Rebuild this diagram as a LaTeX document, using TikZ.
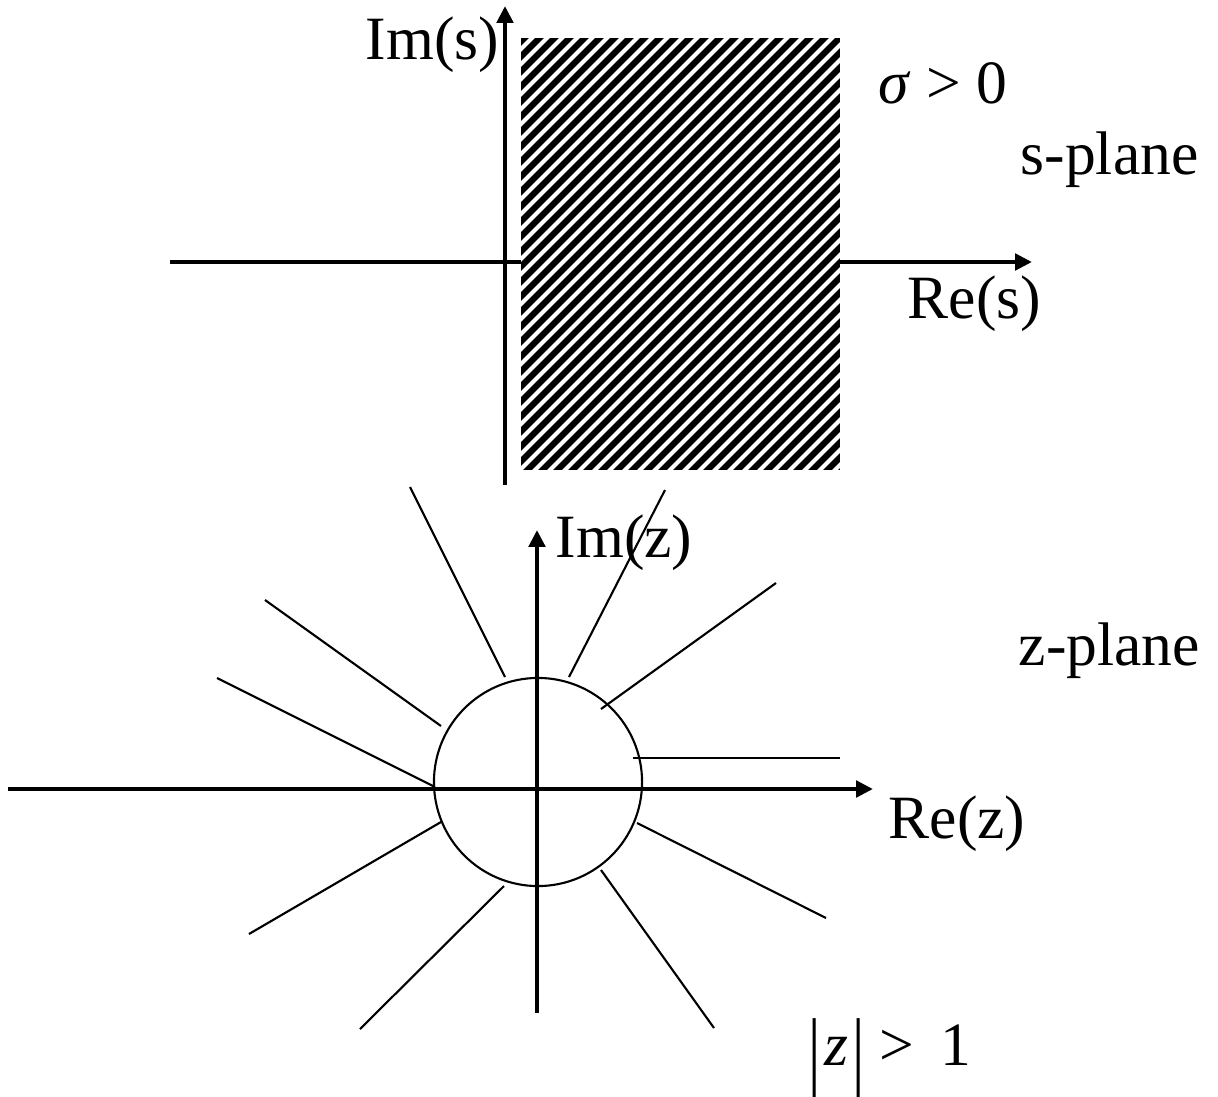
\documentclass[tikz,border=0pt]{standalone}
\usepackage{fontspec}
\setmainfont{Liberation Serif}
\usetikzlibrary{arrows.meta}

\tikzset{
  axis/.style={line width=1.2pt, -{Triangle[length=4.8pt,width=4.6pt]}},
  ray/.style={line width=0.6pt},
  lbl/.style={anchor=base west, inner sep=0pt, font=\fontsize{17.5}{21}\selectfont}
}
\newcommand{\tallbar}{\raisebox{-0.25em}{\scalebox{1}[1.45]{|}}}

\begin{document}
\begin{tikzpicture}[x=0.01cm, y=-0.01cm]
    \useasboundingbox (0,0) rectangle (1218,1097);
    % s-plane
    \coordinate (sO) at (505,262);
    \coordinate (sL) at (170,262);
    \coordinate (sR) at (1032,262);
    \coordinate (sB) at (505,485);
    \coordinate (sT) at (505,6);
    \draw[axis] (sL) -- (sR);
    \draw[axis] (sB) -- (sT);
    % hatched half plane
    \begin{scope}
        \clip (521,38) rectangle (840,470);
        \fill[black] (521,38) rectangle (840,470);
        \foreach \x in {75,90,...,855}
            \draw[white, line width=1.2pt] (\x,480) -- ++(452,-452);
    \end{scope}
    \node[lbl] (ims) at (365,60) {Im(s)};
    \node[lbl] (sigma) at (878,104) {\textit{σ} > 0};
    \node[lbl] (splane) at (1020,175) {s-plane};
    \node[lbl] (res) at (907,318) {Re(s)};

    % z-plane
    \coordinate (zL) at (8,789);
    \coordinate (zR) at (873,789);
    \coordinate (zB) at (537,1013);
    \coordinate (zT) at (537,530);
    \draw[axis] (zL) -- (zR);
    \draw[axis] (zB) -- (zT);
    \node[draw, circle, ray, minimum size=2.08cm, inner sep=0pt] (unit) at (538,782) {};
    \node[lbl] (imz) at (555,557) {Im(z)};
    \node[lbl] (zplane) at (1018,665) {z-plane};
    \node[lbl] (rez) at (888,838) {Re(z)};
    \node[lbl] (absz) at (808,1065) {\tallbar\kern1pt\textit{z}\kern1pt\tallbar{} > \,1};
    % rays
    \foreach \xa/\ya/\xb/\yb in {410/487/505/677, 665/490/569/677, 776/583/601/709,
                       265/600/441/726, 217/678/435/787, 633/758/840/758,
                       637/823/826/918, 441/822/249/934, 601/870/714/1028,
                       504/886/360/1029}
        \draw[ray] (\xa,\ya) -- (\xb,\yb);
\end{tikzpicture}
\end{document}
